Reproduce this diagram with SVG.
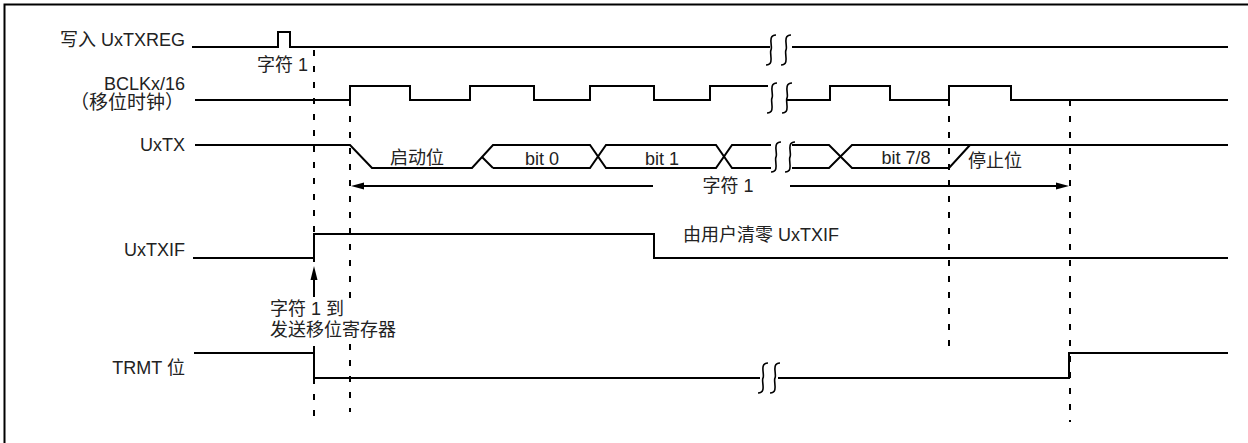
<svg xmlns="http://www.w3.org/2000/svg" width="1248" height="443" viewBox="0 0 1248 443">
<defs>
<style>
.w{fill:none;stroke:#000;stroke-width:2;stroke-linejoin:miter}
.d{fill:none;stroke:#000;stroke-width:2;stroke-dasharray:6 10}
.sq{fill:none;stroke:#000;stroke-width:1.6}
.wh{fill:#fff;stroke:none}
text{font-family:"Liberation Sans","Noto Sans CJK SC",sans-serif;font-size:18px;fill:#222}
.e{text-anchor:end}
.m{text-anchor:middle}
.ah{fill:#000}
</style>
<path id="sqg" d="M 5 -15 C -4 -15 2 -3 0 0 C -2 3 4 15 -5 15"/>
</defs>
<path d="M 1250 4.5 H 4.5 V 445" fill="none" stroke="#000" stroke-width="2"/>

<g id="connectors">
<line class="d" x1="314" y1="50" x2="314" y2="262"/>
<line class="d" x1="314" y1="346" x2="314" y2="417"/>
<line class="d" x1="350" y1="100" x2="350" y2="298"/>
<line class="d" x1="350" y1="344" x2="350" y2="412"/>
<line class="d" x1="949" y1="100" x2="949" y2="356"/>
<line class="d" x1="1070" y1="100" x2="1070" y2="422"/>
<line class="w" x1="362" y1="186" x2="653" y2="186"/>
<polygon class="ah" points="351,186 364,182.5 364,189.5"/>
<line class="w" x1="790" y1="186" x2="1058" y2="186"/>
<polygon class="ah" points="1069,186 1056,182.5 1056,189.5"/>
<line class="w" x1="314" y1="297" x2="314" y2="278"/>
<polygon class="ah" points="314,266 310.5,280 317.5,280"/>
</g>

<g id="uxtxreg">
<text class="e" x="185" y="46">写入 UxTXREG</text>
<path class="w" d="M 192 47 H 278 V 32 H 290 V 47 H 770"/>
<path class="w" d="M 792 47 H 1228"/>
<use href="#sqg" class="sq" x="771" y="50"/>
<use href="#sqg" class="sq" x="786" y="50"/>
<text x="257" y="71">字符 1</text>
</g>

<g id="bclk">
<text class="e" x="185" y="90">BCLKx/16</text>
<text x="70" y="109" style="font-size:19px">（移位时钟）</text>
<path class="w" d="M 195 100 H 350 V 86 H 410 V 100 H 470 V 86 H 534 V 100 H 590 V 86 H 654 V 100 H 710 V 86 H 768"/>
<path class="w" d="M 786 100 H 830 V 86 H 890 V 100 H 949 V 86 H 1011 V 100 H 1228"/>
<use href="#sqg" class="sq" x="772" y="98"/>
<use href="#sqg" class="sq" x="787" y="98"/>
</g>

<g id="uxtx">
<text class="e" x="185" y="151">UxTX</text>
<path class="w" d="M 195 145 H 350 L 372 168 H 472 L 493 145 H 590 L 606 168 H 716 L 732 145 H 771"/>
<path class="w" d="M 493 168 L 482 157"/>
<path class="w" d="M 493 168 H 590 L 606 145 H 716 L 732 168 H 771"/>
<path class="w" d="M 792 145 H 829 L 852 168 H 949 L 970 145"/>
<path class="w" d="M 792 168 H 829 L 852 145 H 1228"/>
<use href="#sqg" class="sq" x="776" y="157"/>
<use href="#sqg" class="sq" x="790" y="157"/>
<text x="390" y="164">启动位</text>
<text class="m" x="542" y="165">bit 0</text>
<text class="m" x="662" y="165">bit 1</text>
<text class="m" x="906" y="164">bit 7/8</text>
<text x="968" y="167">停止位</text>
<text class="m" x="728" y="192">字符 1</text>
</g>

<g id="uxtxif">
<text class="e" x="185" y="256">UxTXIF</text>
<path class="w" d="M 193 258 H 314 V 234 H 654 V 258 H 1228"/>
<text x="683" y="241">由用户清零 UxTXIF</text>
<text x="270" y="315">字符 1 到</text>
<text x="270" y="336">发送移位寄存器</text>
</g>

<g id="trmt">
<text class="e" x="185" y="374">TRMT 位</text>
<path class="w" d="M 194 353 H 314 V 378 H 1069 V 353 H 1228"/>
<rect class="wh" x="760" y="372" width="18" height="12"/>
<use href="#sqg" class="sq" x="763" y="378"/>
<use href="#sqg" class="sq" x="775" y="378"/>
</g>
</svg>
